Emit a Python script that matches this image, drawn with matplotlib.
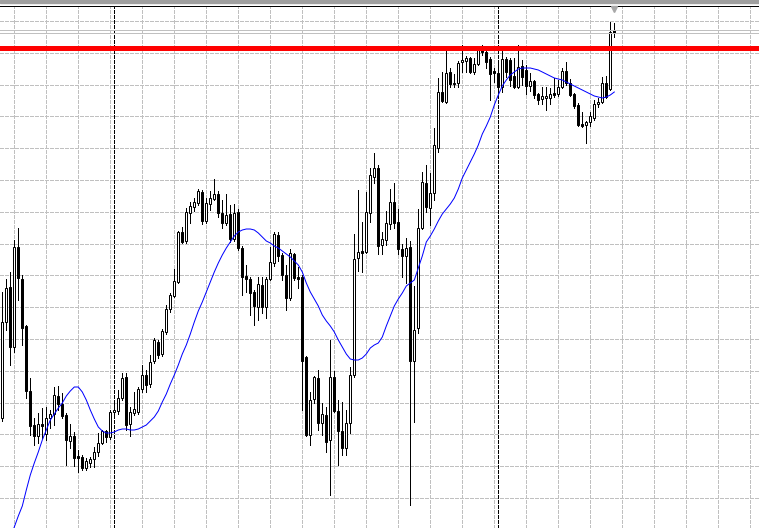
import numpy as np
import matplotlib
matplotlib.use("Agg")
import matplotlib.pyplot as plt
from matplotlib.patches import Rectangle

# OHLC of the visible bars, oldest first (price units of the chart)
opens = [110, 206, 241, 181, 281, 249, 202, 137, 103, 92, 104, 94, 110, 114, 132, 124, 113, 87, 92, 72,
         71, 60, 65, 69, 76, 85, 97, 91, 116, 117, 130, 151, 104, 115, 116, 139, 153, 144, 167, 186,
         174, 196, 219, 232, 246, 296, 287, 315, 321, 325, 336, 307, 324, 329, 334, 315, 305, 314, 289, 316,
         280, 252, 249, 236, 221, 243, 221, 249, 265, 293, 273, 253, 230, 274, 251, 251, 171, 93, 129, 150,
         105, 113, 88, 151, 117, 97, 80, 105, 153, 270, 277, 276, 315, 351, 360, 283, 288, 304, 326, 306,
         279, 272, 281, 167, 200, 300, 345, 320, 335, 380, 436, 426, 456, 444, 445, 466, 467, 470, 456, 464,
         480, 476, 469, 457, 455, 441, 469, 468, 452, 441, 462, 458, 442, 447, 434, 429, 430, 430, 435, 434,
         441, 457, 445, 434, 423, 404, 403, 406, 410, 424, 426, 445, 439, 498]
highs = [236, 249, 256, 288, 300, 253, 203, 150, 110, 115, 120, 121, 118, 141, 142, 135, 115, 104, 96, 78,
         73, 70, 71, 81, 95, 98, 98, 118, 128, 138, 155, 155, 121, 136, 141, 163, 158, 173, 190, 188,
         199, 223, 235, 259, 297, 301, 320, 326, 330, 339, 338, 330, 337, 349, 337, 328, 334, 323, 324, 319,
         282, 263, 251, 238, 251, 251, 251, 281, 296, 296, 275, 263, 279, 275, 261, 253, 172, 136, 152, 158,
         125, 121, 188, 157, 128, 126, 118, 161, 294, 338, 306, 336, 360, 375, 363, 296, 317, 339, 345, 319,
         284, 290, 287, 242, 319, 356, 363, 355, 400, 450, 456, 477, 460, 454, 467, 483, 472, 471, 470, 482,
         483, 480, 471, 460, 464, 480, 471, 470, 470, 483, 468, 463, 455, 448, 435, 441, 441, 440, 450, 448,
         460, 466, 449, 435, 425, 416, 407, 416, 428, 430, 451, 452, 506, 505]
lows = [107, 198, 163, 176, 228, 183, 130, 93, 83, 85, 90, 88, 100, 103, 118, 110, 63, 80, 62, 56,
        58, 58, 61, 61, 72, 84, 86, 89, 111, 114, 128, 98, 92, 113, 114, 136, 136, 141, 165, 170,
        172, 194, 216, 231, 245, 285, 285, 305, 317, 323, 304, 305, 318, 328, 311, 300, 303, 286, 287, 278,
        233, 236, 213, 203, 208, 215, 210, 248, 262, 267, 248, 218, 228, 248, 240, 118, 92, 83, 125, 98,
        93, 76, 33, 116, 63, 73, 73, 95, 151, 257, 256, 275, 306, 345, 274, 274, 283, 299, 300, 274,
        251, 245, 23, 106, 195, 299, 316, 303, 328, 376, 426, 425, 441, 441, 441, 456, 456, 455, 454, 463,
        473, 460, 428, 446, 435, 436, 451, 442, 440, 440, 443, 434, 437, 430, 424, 424, 418, 424, 431, 432,
        440, 443, 432, 420, 402, 401, 385, 402, 408, 421, 425, 430, 438, 491]
closes = [206, 240, 181, 281, 250, 200, 137, 102, 92, 104, 102, 110, 114, 133, 124, 112, 88, 92, 70, 70,
          60, 67, 69, 76, 85, 97, 91, 116, 118, 130, 150, 103, 116, 119, 139, 153, 143, 166, 188, 173,
          197, 219, 233, 247, 296, 286, 316, 322, 326, 337, 307, 325, 330, 334, 315, 305, 313, 289, 315, 280,
          251, 249, 235, 222, 244, 221, 249, 266, 294, 272, 253, 230, 275, 250, 249, 167, 93, 128, 151, 105,
          114, 86, 151, 117, 97, 80, 105, 153, 269, 276, 275, 316, 353, 360, 282, 289, 305, 326, 305, 279,
          272, 280, 167, 198, 300, 346, 321, 335, 383, 436, 427, 455, 444, 445, 465, 468, 470, 456, 464, 480,
          476, 466, 454, 455, 441, 469, 456, 448, 441, 461, 451, 442, 447, 433, 428, 432, 432, 434, 433, 441,
          457, 445, 433, 422, 403, 402, 406, 412, 424, 426, 445, 431, 496, 495]

# moving average as drawn on the chart (starts below the window on the left)
ma_start = 2
ma_values = [-10, 1, 12, 22, 38, 53, 65, 76, 88, 98, 108, 114, 120, 125, 132, 137, 141, 141, 136, 128,
             118, 109, 101, 97, 95, 95, 96, 98, 99, 99, 98, 98, 99, 101, 103, 107, 111, 117, 126, 134,
             144, 153, 163, 174, 183, 194, 206, 217, 226, 236, 246, 256, 265, 273, 280, 286, 292, 296, 298, 299,
             299, 298, 295, 291, 287, 285, 282, 280, 277, 274, 271, 267, 263, 256, 245, 236, 229, 222, 213, 207,
             202, 196, 188, 181, 174, 169, 168, 168, 170, 174, 180, 183, 185, 191, 202, 212, 222, 229, 235, 242,
             245, 248, 260, 272, 286, 292, 299, 307, 314, 319, 324, 330, 339, 350, 358, 366, 374, 383, 394, 402,
             411, 423, 433, 442, 448, 453, 456, 459, 460, 460, 460, 459, 458, 456, 454, 452, 450, 449, 448, 446,
             444, 442, 440, 438, 436, 434, 432, 431, 430, 431, 433, 436]

red_level = 480.5
silver_levels = [497.7, 494.7]
separators = [28, 124]

PX = 0.72  # one pixel in points at dpi 100

o = np.array(opens)
h = np.array(highs)
l = np.array(lows)
c = np.array(closes)
idx = np.arange(len(o))

fig = plt.figure(figsize=(7.59, 5.28), dpi=100)
ax = fig.add_axes([0, 0, 1, 522 / 528])
ax.set_xlim(-0.575, 189.175)
ax.set_ylim(0, 522)

# dashed grid
ax.set_xticks(np.arange(3, 190, 8))
ax.set_yticks(np.arange(30, 510, 31.8))
ax.grid(True, color="#c0c0c0", linestyle=(0, (3, 2)), linewidth=PX, antialiased=False)
ax.set_axisbelow(True)
ax.tick_params(length=0, labelbottom=False, labelleft=False)
for s in ["left", "right", "bottom"]:
    ax.spines[s].set_visible(False)
ax.spines["top"].set_color("black")
ax.spines["top"].set_linewidth(PX)

# period separators
for s in separators:
    ax.axvline(s, color="black", linestyle=(0, (3, 2)), linewidth=PX, antialiased=False, zorder=1)

# candles
up = c >= o
ax.vlines(idx, l, h, color="black", linewidth=PX, antialiased=False, zorder=2)
ax.bar(idx, np.abs(c - o), bottom=np.minimum(o, c), width=0.5,
       color=np.where(up, "white", "black"), edgecolor="black", linewidth=PX, zorder=3)

# moving average
ax.plot(np.arange(ma_start, ma_start + len(ma_values)), ma_values, color="#0000ff", linewidth=PX, zorder=4)

# horizontal line objects
for lv in silver_levels:
    ax.axhline(lv, color="#c0c0c0", linewidth=PX, antialiased=False, zorder=5)
ax.axhline(red_level, color="#ff0000", linewidth=5 * PX, zorder=5)

# chart shift marker
ax.plot([152.9], [519.5], marker="v", markersize=5, color="#a8a8a8", clip_on=False, zorder=6)

# window border at the very top
fig.add_artist(Rectangle((0, 1 - 2.5 / 528), 1, 2.5 / 528, transform=fig.transFigure,
                         color="#a0a0a0", zorder=10))

fig.savefig("out.png", dpi=100)
